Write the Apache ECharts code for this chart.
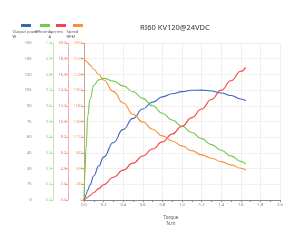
<!DOCTYPE html>
<html><head><meta charset="utf-8">
<script src="https://cdn.jsdelivr.net/npm/echarts@6/dist/echarts.min.js"></script>
<style>html,body{margin:0;padding:0;background:#fff}#c{width:300px;height:244px}</style>
</head><body><div id="c"></div>
<script>
const title = 'RI60 KV120@24VDC';
const torque = [0, 0.01, 0.02, 0.04, 0.06, 0.1, 0.15, 0.2, 0.3, 0.4, 0.5, 0.6, 0.7, 0.8, 0.9, 1.0, 1.1, 1.2, 1.3, 1.4, 1.5, 1.6, 1.65];
const power = [0, 2.5, 5, 9.8, 14.3, 23, 32.5, 41, 55, 67.5, 78, 87, 93.5, 98.5, 101.5, 103.5, 104.8, 105, 104.2, 102.3, 99.8, 96.5, 94.8];
const efficiency = [0, 0.17, 0.33, 0.54, 0.64, 0.73, 0.765, 0.775, 0.757, 0.727, 0.69, 0.647, 0.6, 0.553, 0.51, 0.47, 0.43, 0.391, 0.353, 0.317, 0.281, 0.246, 0.229];
const current = [0, 0.1, 0.2, 0.38, 0.57, 0.95, 1.45, 1.95, 2.9, 3.8, 4.7, 5.6, 6.5, 7.4, 8.4, 9.4, 10.5, 11.6, 12.8, 14.0, 15.2, 16.4, 16.9];
const speed = [2520, 2501, 2482, 2445, 2407, 2332, 2238, 2140, 1933, 1731, 1530, 1390, 1262, 1143, 1052, 965, 880, 804, 745, 685, 626, 566, 535];
const names = ['Output power', 'Efficiency', 'Current', 'Speed'];
const units = ['W', '', 'A', 'RPM'];
const axisMax = [150, 1.0, 20, 2800];
const decimals = [0, 1, 1, 0];
const colors = ['#3a64bd', '#74c84a', '#f04848', '#ff8f30'];
const offsets = [51, 31, 16, 0];
const nameX = [22.5, 45, 58.5, 76.5];
const legendLeft = [21, 40, 56, 73];
const seriesVals = [power, efficiency, current, speed];

const chart = echarts.init(document.getElementById('c'), null, {renderer: 'canvas'});
const font = 'Noto Sans';
const yAxis = names.map((n, i) => ({
  type: 'value', position: 'left', offset: offsets[i], min: 0, max: axisMax[i], interval: axisMax[i] / 10,
  axisLine: {show: true, lineStyle: {color: colors[i], opacity: 0.45, width: 1}},
  axisTick: {show: true, length: 3, lineStyle: {color: colors[i], opacity: 0.45}},
  axisLabel: {fontSize: 4, color: colors[i], opacity: 0.8, margin: 1.5, fontFamily: font,
    formatter: v => v.toFixed(decimals[i])},
  splitLine: {show: i === 0, lineStyle: {color: '#f0f0f0', width: 1}}
}));
const option = {
  animation: false,
  title: {text: title, left: 135, top: 19, textStyle: {fontSize: 7.5, fontWeight: 'normal', color: '#333', fontFamily: font}},
  legend: names.map((n, i) => ({data: [n], left: legendLeft[i], top: 24, itemWidth: 10, itemHeight: 3, icon: 'rect', itemGap: 0, padding: 0, formatter: () => '', textStyle: {fontSize: 1}})),
  graphic: names.map((n, i) => ({
    type: 'text', left: nameX[i] - 10, top: 30, z: 10,
    style: {text: units[i] ? n + '\n' + units[i] : n, width: 20, align: 'center', fontSize: 4, lineHeight: 4.5, fill: '#555', fontFamily: font}
  })),
  grid: {left: 84, right: 20, top: 43, bottom: 44},
  xAxis: {
    type: 'value', min: 0, max: 2, interval: 0.2,
    name: 'Torque\nN.m', nameLocation: 'middle', nameGap: 14,
    nameTextStyle: {fontSize: 4.5, lineHeight: 6.5, color: '#555', fontFamily: font, padding: [0, 22, 0, 0]},
    axisLine: {lineStyle: {color: '#888'}},
    axisTick: {length: 2, lineStyle: {color: '#888'}},
    minorTick: {show: true, splitNumber: 2, length: 2, lineStyle: {color: '#888'}},
    axisLabel: {fontSize: 4, color: '#777', margin: 3, fontFamily: font, formatter: v => v.toFixed(1)},
    splitLine: {show: true, lineStyle: {color: '#eeeeee'}}
  },
  yAxis: yAxis,
  series: names.map((n, i) => ({
    name: n, type: 'line', yAxisIndex: i, showSymbol: false, smooth: 0.5, smoothMonotone: 'x',
    lineStyle: {width: 1.1, color: colors[i]}, itemStyle: {color: colors[i]},
    data: torque.map((t, k) => [t, seriesVals[i][k]])
  }))
};
chart.setOption(option);
</script></body></html>
